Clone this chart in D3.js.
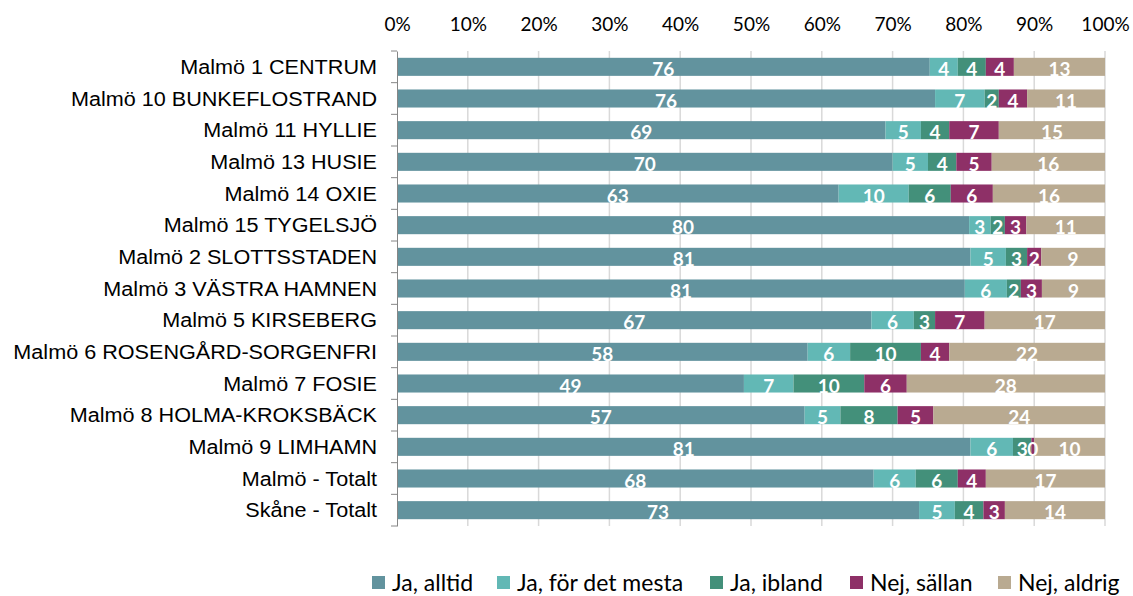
<!DOCTYPE html>
<html>
<head>
<meta charset="utf-8">
<script src="https://cdn.jsdelivr.net/npm/d3@7"></script>
<style>
  body { margin: 0; background: #fff; }
  svg { display: block; }
</style>
</head>
<body>
<div id="chart"></div>
<script>
const categories = [
  'Malmö 1 CENTRUM', 'Malmö 10 BUNKEFLOSTRAND', 'Malmö 11 HYLLIE', 'Malmö 13 HUSIE',
  'Malmö 14 OXIE', 'Malmö 15 TYGELSJÖ', 'Malmö 2 SLOTTSSTADEN', 'Malmö 3 VÄSTRA HAMNEN',
  'Malmö 5 KIRSEBERG', 'Malmö 6 ROSENGÅRD-SORGENFRI', 'Malmö 7 FOSIE', 'Malmö 8 HOLMA-KROKSBÄCK',
  'Malmö 9 LIMHAMN', 'Malmö - Totalt', 'Skåne - Totalt'
];
const seriesNames = ['Ja, alltid', 'Ja, för det mesta', 'Ja, ibland', 'Nej, sällan', 'Nej, aldrig'];
const seriesColors = ['#62939e', '#62b8b5', '#43907a', '#8e3067', '#b9aa91'];

// percentages (labels show them rounded)
const jaAlltid     = [76, 76, 69, 70, 63, 80, 81, 81, 67, 58, 49, 57, 81, 68, 73];
const jaForDetMesta = [4, 7, 5, 5, 10, 3, 5, 6, 6, 6, 7, 5, 6, 6, 5];
const jaIbland     = [4, 2, 4, 4, 6, 2, 3, 2, 3, 10, 10, 8, 2.6, 6, 4];
const nejSallan    = [4, 4, 7, 5, 6, 3, 2, 3, 7, 4, 6, 5, 0.4, 4, 3];
const nejAldrig    = [13, 11, 15, 16, 16, 11, 9, 9, 17, 22, 28, 24, 10, 17, 14];
const xTicks = [0, 0.1, 0.2, 0.3, 0.4, 0.5, 0.6, 0.7, 0.8, 0.9, 1];

const series = [jaAlltid, jaForDetMesta, jaIbland, nejSallan, nejAldrig];

const W = 1133, H = 596;
const margin = {left: 397, right: 28, top: 51, bottom: 70};
const width = W - margin.left - margin.right;
const height = H - margin.top - margin.bottom;
const sans = 'Lato, "Open Sans", sans-serif';

const svg = d3.select('#chart').append('svg').attr('width', W).attr('height', H);
const g = svg.append('g').attr('transform', `translate(${margin.left}, ${margin.top})`);

const x = d3.scaleLinear().domain([0, 1]).range([0, width]);
const y = d3.scaleBand().domain(categories).range([0, height]).paddingInner(0.43).paddingOuter(0.215);

// grid
g.selectAll('.grid').data(xTicks.slice(1)).enter().append('line')
  .attr('x1', d => x(d)).attr('x2', d => x(d))
  .attr('y1', 0).attr('y2', height)
  .attr('stroke', '#d9d9d9').attr('stroke-width', 1.5);

// top axis labels
const xAxis = g.append('g').call(d3.axisTop(x).tickValues(xTicks).tickFormat(d3.format('.0%')).tickSize(0).tickPadding(20));
xAxis.select('.domain').remove();
xAxis.selectAll('text').attr('font-family', sans).attr('font-size', 19).attr('fill', '#000');

// rows
const rows = categories.map((c, i) => {
  const vals = series.map(s => s[i]);
  const total = d3.sum(vals);
  let acc = 0;
  return vals.map((v, k) => {
    const seg = {cat: c, k, v, x0: acc / total, x1: (acc + v) / total};
    acc += v;
    return seg;
  });
});

const row = g.selectAll('.row').data(rows).enter().append('g').attr('class', 'row');
row.selectAll('rect').data(d => d).enter().append('rect')
  .attr('x', d => x(d.x0))
  .attr('y', d => y(d.cat))
  .attr('width', d => Math.max(0, x(d.x1) - x(d.x0)))
  .attr('height', y.bandwidth())
  .attr('fill', d => seriesColors[d.k]);

row.selectAll('text').data(d => d).enter().append('text')
  .attr('x', d => x((d.x0 + d.x1) / 2))
  .attr('y', d => y(d.cat) + y.bandwidth() / 2 + 9)
  .attr('text-anchor', 'middle')
  .attr('font-family', sans)
  .attr('font-weight', 'bold')
  .attr('font-size', 19)
  .attr('fill', '#fff')
  .text(d => Math.round(d.v));

// y axis
const yAxis = g.append('g').call(d3.axisLeft(y).tickSize(0).tickPadding(20));
yAxis.select('.domain').attr('stroke', '#868686');
yAxis.selectAll('text')
  .attr('font-family', '"Liberation Sans", Arial, sans-serif').attr('font-size', 20).attr('fill', '#000')
  .attr('dy', '0.36em')
  .each(function() {
    const len = this.getComputedTextLength();
    d3.select(this).attr('textLength', len * 1.08).attr('lengthAdjust', 'spacingAndGlyphs');
  });
g.selectAll('.ytick').data(d3.range(categories.length + 1)).enter().append('line')
  .attr('x1', -6).attr('x2', 0)
  .attr('y1', i => i * y.step())
  .attr('y2', i => i * y.step())
  .attr('stroke', '#868686');

// legend
const legendX = [372, 497, 710, 850, 998];
const legend = svg.append('g').attr('transform', `translate(0, 591)`);
seriesNames.forEach((name, k) => {
  const lg = legend.append('g').attr('transform', `translate(${legendX[k]}, 0)`);
  lg.append('rect').attr('x', 0).attr('y', -15).attr('width', 13).attr('height', 13).attr('fill', seriesColors[k]);
  lg.append('text').attr('x', 20).attr('y', 0)
    .attr('font-family', sans).attr('font-size', 23).attr('fill', '#000')
    .text(name);
});
</script>
</body>
</html>
